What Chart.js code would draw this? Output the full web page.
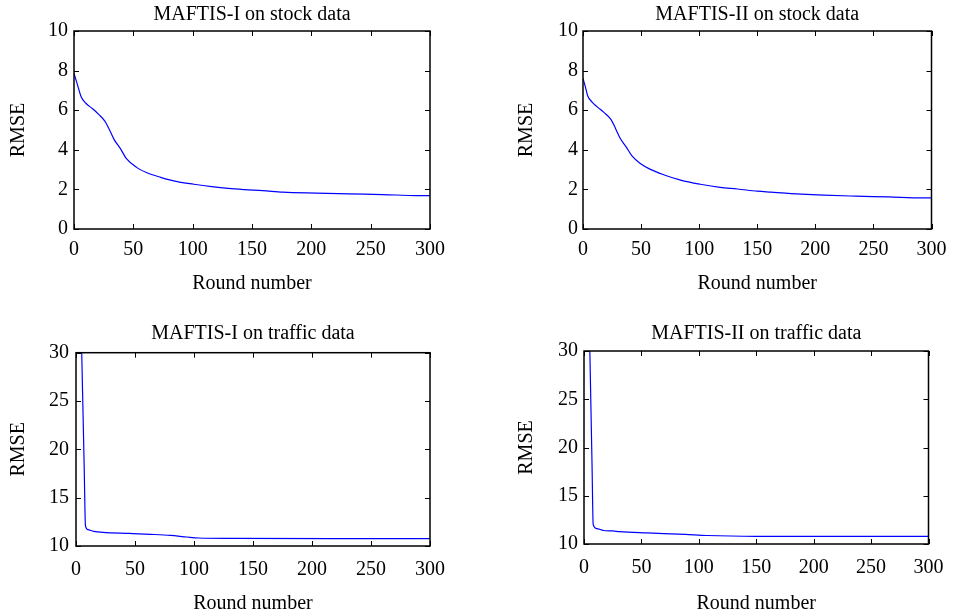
<!DOCTYPE html>
<html>
<head>
<meta charset="utf-8">
<script src="https://cdn.jsdelivr.net/npm/chart.js@4.4.0/dist/chart.umd.min.js"></script>
<style>
  body { margin: 0; background: #fff; }
  #wrap { position: relative; width: 955px; height: 616px; }
  canvas { position: absolute; }
</style>
</head>
<body>
<div id="wrap">
  <canvas id="stock1" width="478" height="300" style="left:0px;top:0px"></canvas>
  <canvas id="stock2" width="477" height="300" style="left:478px;top:0px"></canvas>
  <canvas id="traffic1" width="478" height="316" style="left:0px;top:300px"></canvas>
  <canvas id="traffic2" width="477" height="316" style="left:478px;top:300px"></canvas>
</div>
<script>
// values
const stockRoundsI = [0, 3, 6, 10, 16, 21, 26, 30, 34, 39, 44, 53, 61, 73, 87, 101, 116, 130, 144, 159, 176, 204, 232, 260, 289, 300];
const stockRmseI   = [7.86, 7.27, 6.68, 6.35, 6.06, 5.78, 5.45, 5.0, 4.5, 4.07, 3.57, 3.1, 2.85, 2.61, 2.39, 2.26, 2.14, 2.05, 1.99, 1.94, 1.86, 1.81, 1.77, 1.74, 1.69, 1.69];

const stockRoundsII = [0, 2, 4, 8, 12, 18, 24, 28, 32, 37, 42, 49, 58, 70, 84, 101, 118, 133, 150, 162, 179, 207, 235, 263, 292, 300];
const stockRmseII   = [7.61, 7.19, 6.73, 6.4, 6.18, 5.89, 5.54, 5.08, 4.58, 4.16, 3.7, 3.32, 3.01, 2.73, 2.47, 2.26, 2.1, 2.02, 1.91, 1.86, 1.79, 1.71, 1.66, 1.62, 1.57, 1.57];

const trafficRoundsI = [4, 5, 6, 7, 8, 10, 15, 23, 45, 63, 80, 94, 104, 133, 218, 300];
const trafficRmseI   = [36, 29.2, 23.5, 17.8, 12.1, 11.7, 11.52, 11.4, 11.3, 11.21, 11.1, 10.93, 10.83, 10.79, 10.76, 10.76];

const trafficRoundsII = [4, 5, 6, 7, 8, 11, 17, 25, 31, 55, 88, 107, 150, 300];
const trafficRmseII   = [36.8, 30.6, 24.4, 18.2, 12.0, 11.6, 11.4, 11.35, 11.28, 11.15, 11.0, 10.88, 10.8, 10.8];

const xTicks = [0, 50, 100, 150, 200, 250, 300];
const stockYTicks = [0, 2, 4, 6, 8, 10];
const trafficYTicks = [10, 15, 20, 25, 30];

const FONT = { family: "'Liberation Serif', 'Times New Roman', serif", size: 20, weight: 'normal' };

// box around the plot + inward ticks on all four sides, matlab style
const framePlugin = {
  id: 'frame',
  afterDatasetsDraw(chart) {
    const ctx = chart.ctx;
    const a = chart.chartArea;
    const xs = chart.scales.x, ys = chart.scales.y;
    ctx.save();
    ctx.strokeStyle = '#000';
    ctx.lineWidth = 1;
    ctx.beginPath();
    xs.ticks.forEach(function (t) {
      const px = Math.round(xs.getPixelForValue(t.value)) + 0.5;
      ctx.moveTo(px, a.bottom); ctx.lineTo(px, a.bottom - 5);
      ctx.moveTo(px, a.top); ctx.lineTo(px, a.top + 5);
    });
    ys.ticks.forEach(function (t) {
      const py = Math.round(ys.getPixelForValue(t.value)) + 0.5;
      ctx.moveTo(a.left, py); ctx.lineTo(a.left + 5, py);
      ctx.moveTo(a.right, py); ctx.lineTo(a.right - 5, py);
    });
    ctx.stroke();
    ctx.lineWidth = 1.5;
    ctx.strokeRect(a.left, a.top, a.right - a.left, a.bottom - a.top);
    ctx.restore();
  }
};

function makePanel(id, title, rounds, rmse, yTicks, box) {
  const pts = rounds.map(function (r, i) { return { x: r, y: rmse[i] }; });
  new Chart(document.getElementById(id).getContext('2d'), {
    type: 'line',
    data: {
      datasets: [{
        data: pts,
        borderColor: '#0000ff',
        borderWidth: 1.2,
        pointRadius: 0,
        fill: false,
        cubicInterpolationMode: 'monotone'
      }]
    },
    options: {
      responsive: false,
      animation: false,
      devicePixelRatio: 1,
      layout: { padding: { left: 0, right: box.right, top: 0, bottom: 0 } },
      plugins: {
        legend: { display: false },
        tooltip: { enabled: false },
        title: {
          display: true,
          text: title,
          fullSize: false,
          color: '#000',
          font: FONT,
          padding: { top: box.titleTop, bottom: box.titleBottom }
        }
      },
      scales: {
        x: {
          type: 'linear',
          min: xTicks[0],
          max: xTicks[xTicks.length - 1],
          afterBuildTicks: function (s) { s.ticks = xTicks.map(function (v) { return { value: v }; }); },
          ticks: { color: '#000', font: FONT, padding: box.xTickPad, maxRotation: 0, autoSkip: false },
          grid: { display: false, drawTicks: false },
          border: { display: false },
          title: { display: true, text: 'Round number', color: '#000', font: FONT, padding: { top: 0, bottom: box.xTitlePad } },
          afterFit: function (s) { s.height = box.xHeight; }
        },
        y: {
          min: yTicks[0],
          max: yTicks[yTicks.length - 1],
          afterBuildTicks: function (s) { s.ticks = yTicks.map(function (v) { return { value: v }; }); },
          ticks: { color: '#000', font: FONT, padding: box.yTickPad, autoSkip: false },
          grid: { display: false, drawTicks: false },
          border: { display: false },
          title: { display: true, text: 'RMSE', color: '#000', font: FONT, padding: { top: box.yTitlePad, bottom: 0 } },
          afterFit: function (s) { s.width = box.yWidth; }
        }
      }
    },
    plugins: [framePlugin]
  });
}

makePanel('stock1', 'MAFTIS-I on stock data', stockRoundsI, stockRmseI, stockYTicks,
  { right: 48, titleTop: 2.5, titleBottom: 4.5, xTickPad: 8.5, xTitlePad: 4.5, xHeight: 71, yTickPad: 6, yTitlePad: 7, yWidth: 74 });
makePanel('stock2', 'MAFTIS-II on stock data', stockRoundsII, stockRmseII, stockYTicks,
  { right: 19, titleTop: 2.5, titleBottom: 4.5, xTickPad: 8.5, xTitlePad: 4.5, xHeight: 71, yTickPad: 5, yTitlePad: 37, yWidth: 105 });
makePanel('traffic1', 'MAFTIS-I on traffic data', trafficRoundsI, trafficRmseI, trafficYTicks,
  { right: 48, titleTop: 22, titleBottom: 6.7, xTickPad: 11.5, xTitlePad: 0.7, xHeight: 70, yTickPad: 7, yTitlePad: 7, yWidth: 76 });
makePanel('traffic2', 'MAFTIS-II on traffic data', trafficRoundsII, trafficRmseII, trafficYTicks,
  { right: 18, titleTop: 22, titleBottom: 5, xTickPad: 11.5, xTitlePad: 0.7, xHeight: 72, yTickPad: 6, yTitlePad: 37, yWidth: 106 });
</script>
</body>
</html>
